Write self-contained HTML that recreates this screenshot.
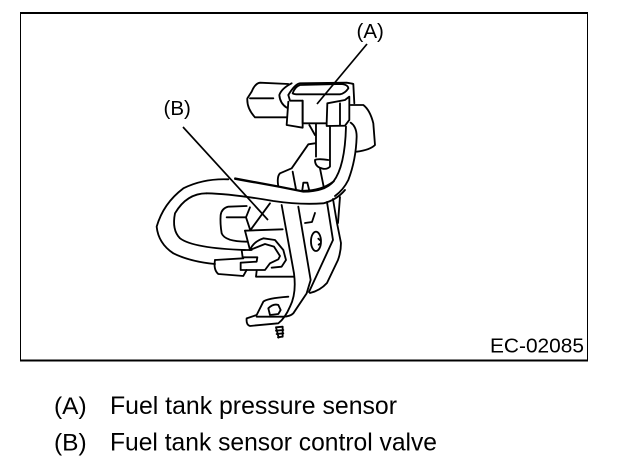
<!DOCTYPE html>
<html><head><meta charset="utf-8"><style>
html,body{margin:0;padding:0;background:#fff}
svg{display:block}
text{font-family:"Liberation Sans",sans-serif;fill:#000}
.d path,.d ellipse{fill:none;stroke:#000;stroke-width:5.5;stroke-linejoin:round;stroke-linecap:round}
</style></head><body>
<svg width="624" height="472" viewBox="0 0 624 472" xmlns="http://www.w3.org/2000/svg">
<rect width="624" height="472" fill="#fff"/>
<path d="M20.5 361V13H587.5V361Z" fill="none" stroke="#000" stroke-width="1"/>
<path d="M20 13H588" stroke="#000" stroke-width="2"/>
<path d="M20 360.5H588" stroke="#000" stroke-width="2"/>
<path d="M367 44L317 104" stroke="#000" stroke-width="1.7" fill="none"/>
<path d="M183 127L268 220" stroke="#000" stroke-width="1.7" fill="none"/>
<g class="d" transform="translate(220,60) scale(.3333)">
<path d="M205,72 L120,68 Q105,70 95,95 L82,115 Q80,145 105,172 L200,172"/>
<path d="M90,115 L160,115"/>
<path d="M215,70 Q185,85 178,105 Q180,130 200,143"/>
<path d="M205,105 Q225,72 240,70 L380,68 Q395,70 400,72 L403,130"/>
<path d="M218,100 Q225,80 240,75 L365,72 Q385,75 385,85 Q375,100 360,103 L235,103 Q222,103 218,100"/>
<path d="M205,105 L210,122 L248,122 L248,190 L320,190 L320,198 L375,197 L388,180 L388,110 L375,120 L322,130 L320,190"/>
<path d="M205,125 L200,195 L248,203 L248,122"/>
<path d="M360,130 L360,195"/>
<path d="M392,135 L430,135 Q450,150 460,190 L465,255 Q450,270 410,275"/>
<path d="M288,192 L288,290"/>
<path d="M330,198 L330,320 Q320,330 305,325 Q285,320 285,300 Q295,295 325,300"/>
<path d="M268,195 L285,225"/>
<path d="M285,250 L265,253 L215,325 L180,340 Q170,350 175,380"/>
<path d="M218,335 L228,388"/>
<path d="M300,325 L312,385"/>
<path d="M247,390 L250,368 L262,368 L268,392"/>
<path d="M45,355 L170,378 L240,392 Q300,395 340,365 Q375,320 378,200"/>
<path d="M392,188 Q410,200 410,230 Q408,300 385,360 Q370,390 345,408"/>
</g>
<g class="d" transform="translate(150,170) scale(.3333)">
<path d="M255,27 L300,35 L385,50 L460,65 Q525,65 552,33"/>
<path d="M170,70 Q110,70 75,130 Q65,180 90,205 Q130,235 285,240"/>
<path d="M235,28 Q160,25 100,55 Q40,100 20,170 Q25,220 70,250 Q120,275 195,282"/>
<path d="M170,70 Q250,72 370,93 Q450,105 520,100 Q560,90 585,60"/>
<path d="M290,108 L235,110 Q215,115 212,135 Q210,160 215,190 Q225,215 290,215"/>
<path d="M230,142 L288,142 L300,178"/>
<path d="M288,142 L300,112"/>
<path d="M285,182 L398,178"/>
<path d="M285,182 L300,240"/>
<path d="M360,100 L303,178"/>
<path d="M395,105 L432,310 Q440,370 420,410 Q405,445 385,460 L300,468 Q288,465 290,445 L320,435 L340,395 Q350,385 415,380"/>
<path d="M445,110 L482,330 L470,370 L430,430 Q420,440 400,440 L320,440"/>
<path d="M355,415 Q370,400 385,405 L392,420 L385,432 L360,435 Z"/>
<ellipse cx="498" cy="214" rx="15" ry="29"/>
<path d="M505,206 L512,212 M506,224 L512,220"/>
<path d="M531,96 L549,210 L477,366"/>
<path d="M549,87 L561,159 L573,219 Q573,245 564,270 L531,339 Q510,362 480,369"/>
<path d="M570,81 L564,159"/>
<path d="M495,129 L486,156 L465,159"/>
<path d="M300,240 Q310,215 340,205 L375,210 L400,240 L408,270 L395,290 L365,293"/>
<path d="M305,238 L345,222 L372,230 L390,258 L385,268 L360,280 L345,300 L272,300 L272,278 L320,275 L322,262 L278,262 L275,240 L305,240"/>
<path d="M195,270 L280,265"/>
<path d="M195,270 Q190,300 205,312 L280,318 L290,300"/>
<path d="M320,303 L318,320 L432,320"/>
<path d="M378,472 L398,470 M378,482 L400,480 M380,492 L400,490 M384,502 L398,500 M378,472 L386,503 M398,470 L398,500"/>
</g>
<text x="356.5" y="38" font-size="20.5">(A)</text>
<text x="163.5" y="115" font-size="20.5">(B)</text>
<text x="490" y="352.5" font-size="20.5" textLength="94" lengthAdjust="spacingAndGlyphs">EC-02085</text>
<text x="54" y="414" font-size="24.5">(A)</text>
<text x="110" y="414" font-size="24.7" textLength="287" lengthAdjust="spacingAndGlyphs">Fuel tank pressure sensor</text>
<text x="54" y="450.5" font-size="24.5">(B)</text>
<text x="110" y="450.5" font-size="24.7" textLength="327" lengthAdjust="spacingAndGlyphs">Fuel tank sensor control valve</text>
</svg>
</body></html>
